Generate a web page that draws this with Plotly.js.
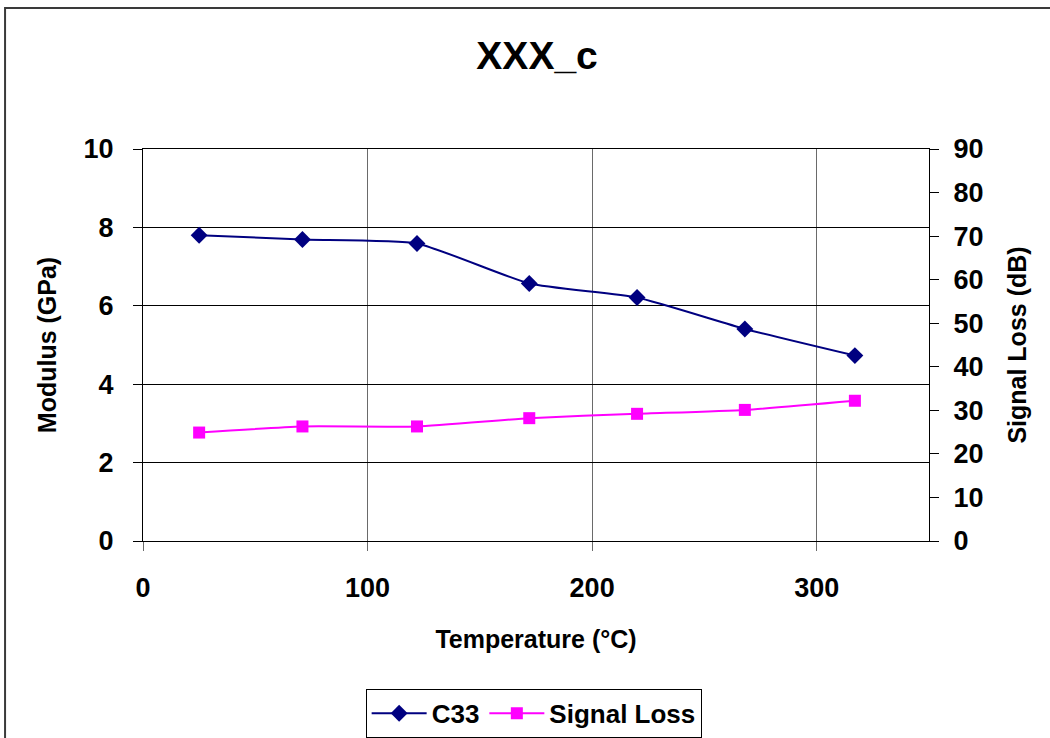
<!DOCTYPE html>
<html>
<head>
<meta charset="utf-8">
<script src="https://cdn.plot.ly/plotly-3.0.1.min.js"></script>
<style>html,body{margin:0;padding:0;background:#fff;}#chart{width:1050px;height:738px;}</style>
</head>
<body>
<div id="chart"></div>
<script>
// Data
var temperature = [25, 71, 122, 172, 220, 268, 317];
var c33Modulus = [7.80, 7.69, 7.59, 6.57, 6.21, 5.41, 4.73];
var signalLoss = [24.9, 26.3, 26.3, 28.2, 29.2, 30.1, 32.2];
var seriesNames = ["C33", "Signal Loss"];
var chartTitle = "XXX_c";
var xTitle = "Temperature (°C)";
var yTitle = "Modulus (GPa)";
var y2Title = "Signal Loss (dB)";

var FONT = '"Liberation Sans", Arial, sans-serif';

var traces = [
  {
    x: temperature, y: c33Modulus, name: seriesNames[0], type: 'scatter', mode: 'lines+markers',
    line: {color: '#000080', width: 2, shape: 'spline', smoothing: 0.5},
    marker: {symbol: 'diamond', size: 13, color: '#000080'},
    yaxis: 'y'
  },
  {
    x: temperature, y: signalLoss, name: seriesNames[1], type: 'scatter', mode: 'lines+markers',
    line: {color: '#FF00FF', width: 2, shape: 'spline', smoothing: 0.5},
    marker: {symbol: 'square', size: 12, color: '#FF00FF'},
    yaxis: 'y2'
  }
];

var tickFont = {family: FONT, size: 27, color: '#000', weight: 'bold'};
var titleFont = {family: FONT, size: 25, color: '#000', weight: 'bold'};

var layout = {
  width: 1050, height: 738,
  paper_bgcolor: '#fff', plot_bgcolor: '#fff',
  margin: {l: 143, r: 120.5, t: 148.5, b: 196.5, autoexpand: false},
  showlegend: true,
  title: {text: chartTitle, font: {family: FONT, size: 39, color: '#000', weight: 'bold'},
          x: 0.5115, xanchor: 'center', y: 0.925, yanchor: 'middle'},
  xaxis: {
    range: [0, 350], dtick: 100, tick0: 0,
    showline: true, linecolor: '#000', linewidth: 1, mirror: true,
    showgrid: true, gridcolor: '#6a6a6a', gridwidth: 1,
    ticks: 'outside', ticklen: 9, tickcolor: '#6a6a6a', tickwidth: 1,
    tickfont: tickFont, zeroline: false, ticklabelstandoff: 14, automargin: false,
    title: {text: xTitle, font: titleFont, standoff: 28}
  },
  yaxis: {
    range: [0, 10], dtick: 2, tick0: 0,
    showline: true, linecolor: '#000', linewidth: 1,
    showgrid: true, gridcolor: '#000', gridwidth: 1,
    ticks: 'outside', ticklen: 9, tickcolor: '#000', tickwidth: 1,
    tickfont: tickFont, zeroline: false, ticklabelstandoff: 14, automargin: false,
    title: {text: yTitle, font: titleFont, standoff: 19}
  },
  yaxis2: {
    range: [0, 90], dtick: 10, tick0: 0, overlaying: 'y', side: 'right',
    showline: true, linecolor: '#000', linewidth: 1,
    showgrid: false, zeroline: false,
    ticks: 'outside', ticklen: 9, tickcolor: '#000', tickwidth: 1,
    tickfont: tickFont, ticklabelstandoff: 9, automargin: false,
    title: {text: y2Title, font: titleFont, standoff: 26}
  },
  yaxis3: {
    range: [0, 10], dtick: 2, tick0: 0, overlaying: 'y', side: 'left',
    showline: false, showgrid: false, zeroline: false, showticklabels: false,
    ticks: 'inside', ticklen: 6, tickcolor: '#000', tickwidth: 1
  },
  yaxis4: {
    range: [0, 90], dtick: 10, tick0: 0, overlaying: 'y', side: 'right',
    showline: false, showgrid: false, zeroline: false, showticklabels: false,
    ticks: 'inside', ticklen: 10, tickcolor: '#000', tickwidth: 1
  },
  legend: {
    orientation: 'h', x: 0.497, xanchor: 'center', y: -0.377, yanchor: 'top',
    bordercolor: '#000', borderwidth: 1, bgcolor: '#fff',
    font: {family: FONT, size: 26, color: '#000', weight: 'bold'},
    itemwidth: 55, tracegroupgap: 0
  },
  shapes: [
    {type: 'rect', xref: 'paper', yref: 'paper', x0: -0.1755, x1: 1.25, y0: -0.7, y1: 1.36,
     line: {color: '#3a3a3a', width: 2}, fillcolor: 'rgba(0,0,0,0)', layer: 'below'}
  ]
};

Plotly.newPlot('chart', traces, layout, {displayModeBar: false, staticPlot: true});
</script>
</body>
</html>
